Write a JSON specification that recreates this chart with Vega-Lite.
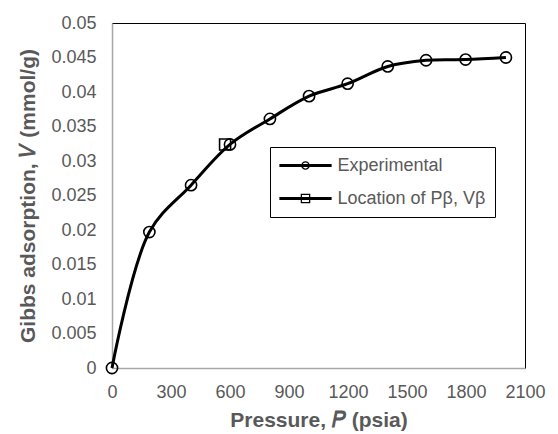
{
  "$schema": "https://vega.github.io/schema/vega-lite/v6.json",
  "width": 413,
  "height": 345,
  "autosize": {"type": "none"},
  "padding": {"left": 112, "top": 23, "right": 33, "bottom": 66},
  "background": "white",
  "config": {
    "view": {"stroke": "black", "strokeWidth": 1},
    "font": "Liberation Sans",
    "axis": {
      "labelFont": "Liberation Sans",
      "labelFontSize": 18,
      "labelColor": "#595959",
      "labelOverlap": false,
      "labelBound": false,
      "labelFlush": false,
      "titleFont": "Liberation Sans",
      "titleFontSize": 21,
      "titleFontWeight": "bold",
      "titleColor": "#595959",
      "ticks": false,
      "grid": false,
      "domainColor": "#a6a6a6",
      "domainWidth": 1.5
    }
  },
  "data": {
    "values": [
      {"P": 0, "V": 0, "series": "Experimental"},
      {"P": 190, "V": 0.0197, "series": "Experimental"},
      {"P": 402, "V": 0.0265, "series": "Experimental"},
      {"P": 600, "V": 0.0324, "series": "Experimental"},
      {"P": 803, "V": 0.0361, "series": "Experimental"},
      {"P": 1002, "V": 0.0394, "series": "Experimental"},
      {"P": 1198, "V": 0.0412, "series": "Experimental"},
      {"P": 1402, "V": 0.0437, "series": "Experimental"},
      {"P": 1597, "V": 0.0446, "series": "Experimental"},
      {"P": 1798, "V": 0.0447, "series": "Experimental"},
      {"P": 2003, "V": 0.045, "series": "Experimental"},
      {"P": 575, "V": 0.0324, "series": "Location of Pβ, Vβ"}
    ]
  },
  "encoding": {
    "x": {
      "field": "P", "type": "quantitative",
      "scale": {"domain": [0, 2100], "nice": false},
      "axis": {"values": [0, 300, 600, 900, 1200, 1500, 1800, 2100], "format": "d", "labelPadding": 15, "title": "Pressure, 𝑃 (psia)", "titlePadding": 8}
    },
    "y": {
      "field": "V", "type": "quantitative",
      "scale": {"domain": [0, 0.05], "nice": false},
      "axis": {"values": [0, 0.005, 0.01, 0.015, 0.02, 0.025, 0.03, 0.035, 0.04, 0.045, 0.05], "format": "~g", "labelPadding": 16, "title": "Gibbs adsorption, 𝑉 (mmol/g)", "titlePadding": 12}
    }
  },
  "layer": [
    {
      "transform": [{"filter": "datum.series === 'Experimental'"}],
      "mark": {"type": "line", "color": "black", "strokeWidth": 3, "interpolate": "catmull-rom"}
    },
    {
      "transform": [{"filter": "datum.series === 'Experimental'"}],
      "mark": {"type": "point", "shape": "circle", "filled": false, "color": "black", "strokeWidth": 1.6, "size": 125, "opacity": 1}
    },
    {
      "transform": [{"filter": "datum.series !== 'Experimental'"}],
      "mark": {"type": "point", "shape": "square", "filled": false, "color": "black", "strokeWidth": 1.6, "size": 121, "opacity": 1}
    },
    {
      "mark": {"type": "point", "filled": true, "color": "black", "strokeWidth": 0, "opacity": 0, "size": 303},
      "encoding": {
        "shape": {
          "field": "series", "type": "nominal",
          "scale": {
            "domain": ["Experimental", "Location of Pβ, Vβ"],
            "range": [
              "M-3,-0.172H3V0.172H-3Z M0.5,0A0.5,0.5,0,1,1,-0.5,0A0.5,0.5,0,1,1,0.5,0Z M0.34,0A0.34,0.34,0,1,0,-0.34,0A0.34,0.34,0,1,0,0.34,0Z",
              "M-3,-0.172H3V0.172H-3Z M-0.55,-0.55H0.55V0.55H-0.55Z M-0.4,-0.4V0.4H0.4V-0.4Z"
            ]
          },
          "legend": {
            "title": null,
            "orient": "none",
            "legendX": 158,
            "legendY": 124,
            "symbolOpacity": 1,
            "symbolSize": 303,
            "symbolFillColor": "black",
            "symbolStrokeWidth": 0,
            "symbolOffset": 17,
            "labelOffset": 23,
            "labelFont": "Liberation Sans",
            "labelFontSize": 18,
            "labelColor": "#595959",
            "labelLimit": 300,
            "rowPadding": 15,
            "padding": 9.5,
            "fillColor": "white",
            "strokeColor": "black"
          }
        }
      }
    }
  ]
}
